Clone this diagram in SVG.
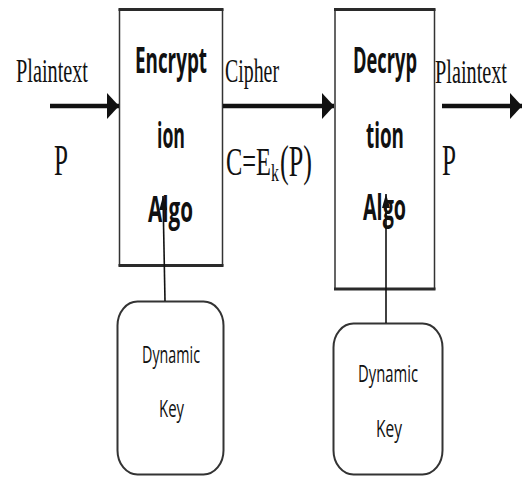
<svg xmlns="http://www.w3.org/2000/svg" width="522" height="477" viewBox="0 0 522 477">
  <style>
    .box { fill: #fff; stroke: #333; stroke-width: 1.5; }
    .edge { stroke: #2a2a2a; stroke-width: 3; }
    .key { fill: #fff; stroke: #333; stroke-width: 2; }
    .serif { font-family: "Liberation Serif", "Times New Roman", serif; fill: #111; }
    .sans { font-family: "Open Sans", "Liberation Sans", Arial, sans-serif; fill: #111; }
    .bold { font-weight: bold; }
    .wire { stroke: #111; stroke-width: 1.6; fill: none; }
    .flow { stroke: #111; stroke-width: 4.5; fill: none; }
  </style>
  <defs>
    <marker id="head" viewBox="0 0 12 26" refX="12" refY="13" markerWidth="12" markerHeight="26" orient="auto" markerUnits="userSpaceOnUse" preserveAspectRatio="none">
      <path d="M0,0 L12,13 L0,26 Z" fill="#111"/>
    </marker>
    <marker id="tip" viewBox="0 0 14 8" refX="14" refY="4" markerWidth="14" markerHeight="8" orient="auto" markerUnits="userSpaceOnUse" preserveAspectRatio="none">
      <path d="M0,0 L14,4 L0,8 Z" fill="#111"/>
    </marker>
  </defs>

  <!-- encryption block -->
  <g id="encrypt">
    <rect class="box" x="119.5" y="9.5" width="103" height="256"/>
    <line class="edge" x1="118.5" y1="9.5" x2="223.5" y2="9.5"/>
    <line class="edge" x1="118.5" y1="265.5" x2="223.5" y2="265.5"/>
    <text class="sans bold" x="135" y="73" font-size="36" textLength="72" lengthAdjust="spacingAndGlyphs">Encrypt</text>
    <text class="sans bold" x="157" y="148" font-size="36" textLength="28" lengthAdjust="spacingAndGlyphs">ion</text>
    <text class="sans bold" x="148" y="222" font-size="36" textLength="45" lengthAdjust="spacingAndGlyphs">Algo</text>
  </g>

  <!-- decryption block -->
  <g id="decrypt">
    <rect class="box" x="335" y="9.5" width="99.5" height="279.5"/>
    <line class="edge" x1="334" y1="9.5" x2="435.5" y2="9.5"/>
    <line class="edge" x1="334" y1="289" x2="435.5" y2="289"/>
    <text class="sans bold" x="353" y="73" font-size="36" textLength="64" lengthAdjust="spacingAndGlyphs">Decryp</text>
    <text class="sans bold" x="366" y="148" font-size="36" textLength="38" lengthAdjust="spacingAndGlyphs">tion</text>
    <text class="sans bold" x="363" y="220" font-size="36" textLength="43" lengthAdjust="spacingAndGlyphs">Algo</text>
  </g>

  <!-- key generators -->
  <g id="key-enc">
    <rect class="key" x="117.5" y="301.5" width="106" height="173" rx="20" ry="24"/>
    <text class="sans" x="142" y="363" font-size="23" textLength="58" lengthAdjust="spacingAndGlyphs">Dynamic</text>
    <text class="sans" x="159" y="417" font-size="23" textLength="25" lengthAdjust="spacingAndGlyphs">Key</text>
  </g>
  <g id="key-dec">
    <rect class="key" x="333.5" y="323.5" width="109" height="151" rx="20" ry="24"/>
    <text class="sans" x="358" y="382" font-size="23" textLength="60" lengthAdjust="spacingAndGlyphs">Dynamic</text>
    <text class="sans" x="376" y="437" font-size="23" textLength="26" lengthAdjust="spacingAndGlyphs">Key</text>
  </g>

  <!-- flow labels -->
  <g id="labels">
    <text class="serif" x="16" y="82" font-size="34" textLength="72" lengthAdjust="spacingAndGlyphs">Plaintext</text>
    <text class="serif" x="54" y="175" font-size="44" textLength="14" lengthAdjust="spacingAndGlyphs">P</text>
    <text class="serif" x="225" y="82" font-size="34" textLength="54" lengthAdjust="spacingAndGlyphs">Cipher</text>
    <text class="serif" x="226" y="175" font-size="40" textLength="45" lengthAdjust="spacingAndGlyphs">C=E</text>
    <text class="serif" x="271" y="181" font-size="26" textLength="8" lengthAdjust="spacingAndGlyphs">k</text>
    <text class="serif" x="280" y="176" font-size="44" textLength="32" lengthAdjust="spacingAndGlyphs">(P)</text>
    <text class="serif" x="435" y="83" font-size="34" textLength="72" lengthAdjust="spacingAndGlyphs">Plaintext</text>
    <text class="serif" x="442" y="175" font-size="44" textLength="14" lengthAdjust="spacingAndGlyphs">P</text>
  </g>

  <!-- connectors -->
  <g id="connectors">
    <line class="flow" x1="50" y1="106" x2="119" y2="106" marker-end="url(#head)"/>
    <line class="flow" x1="223" y1="106" x2="334" y2="106" marker-end="url(#head)"/>
    <line class="flow" x1="442" y1="106" x2="522" y2="106" marker-end="url(#head)"/>
    <line class="wire" x1="165" y1="301" x2="163" y2="196" marker-end="url(#tip)"/>
    <line class="wire" x1="386" y1="323" x2="386" y2="194" marker-end="url(#tip)"/>
  </g>
</svg>
